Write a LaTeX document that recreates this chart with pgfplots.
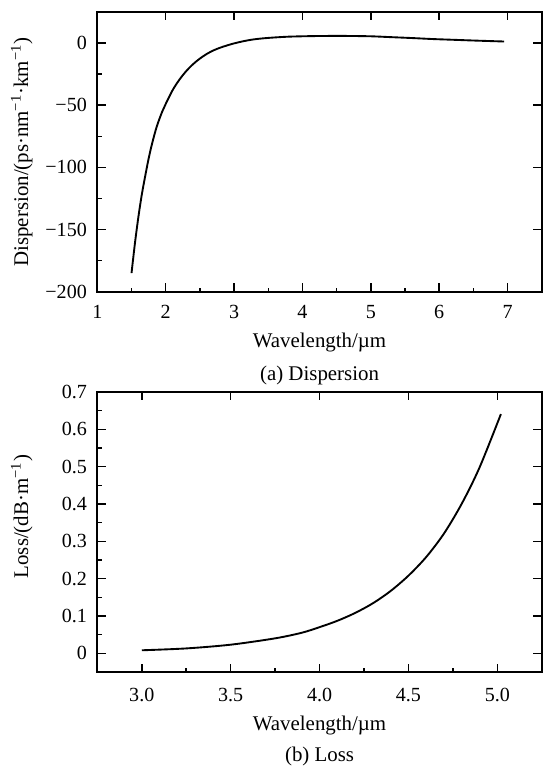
\documentclass[border=0pt]{standalone}
\usepackage{fontspec}
\setmainfont{Liberation Serif}
\usepackage{pgfplots}
\pgfplotsset{compat=1.18}
\begin{document}
\begin{tikzpicture}
\pgfplotsset{
  base/.style={width=212.8pt,height=134pt,scale only axis,
    axis line style={line width=0.9pt},
    tick style={line width=0.7pt,black},
    major tick length=4pt, minor tick length=2pt, tick align=inside,
    /pgf/number format/assume math mode=true,
    tick label style={font=\fontsize{9.6}{11}\selectfont},
    yticklabel style={xshift=-1.5pt},
    label style={font=\fontsize{10}{12}\selectfont},
    xtick pos=left, ytick pos=left},
  mirror/.style={base, xticklabels={}, yticklabels={}, minor xtick={}, minor ytick={},
    xtick pos=right, ytick pos=right, axis line style={draw=none}}
}
% ---------- (a) Dispersion ----------
\begin{axis}[base, name=top,
  xmin=1, xmax=7.5, ymin=-200, ymax=25,
  xtick={1,2,3,4,5,6,7}, minor xtick={1.5,2.5,3.5,4.5,5.5,6.5},
  ytick={-200,-150,-100,-50,0}, minor ytick={-175,-125,-75,-25},
  yticklabels={−200,−150,−100,−50,0},
  xticklabels={1,2,3,4,5,6,7},
  xticklabel style={yshift=-3pt},
  xlabel={Wavelength/µm},
  ylabel={Dispersion/(ps·nm\textsuperscript{−1}·km\textsuperscript{−1})},
  x label style={at={(axis description cs:0.5,-0.181)},anchor=center},
  y label style={at={(axis description cs:-0.170,0.5)},anchor=center},
]
\addplot[black, line width=0.9pt, smooth] coordinates {
(1.50,-185) (1.55,-161) (1.60,-140) (1.65,-122) (1.70,-107) (1.75,-93)
(1.80,-81) (1.87,-67) (1.95,-55) (2.00,-49) (2.10,-38) (2.20,-29.5)
(2.30,-22.6) (2.40,-17) (2.50,-12.5) (2.60,-8.8) (2.70,-5.9) (2.80,-3.7)
(2.90,-1.9) (3.00,-0.3) (3.15,1.6) (3.30,3.0) (3.50,4.1) (3.80,5.1)
(4.20,5.6) (4.60,5.7) (5.00,5.4) (5.30,4.7) (5.60,4.0) (5.90,3.2)
(6.20,2.6) (6.50,2.0) (6.95,1.2)
};
\end{axis}
\begin{axis}[mirror,
  xmin=1, xmax=7.5, ymin=-200, ymax=25,
  xtick={1,2,3,4,5,6,7}, ytick={-200,-150,-100,-50,0}]
\end{axis}
\node[anchor=center, inner sep=0pt, font=\fontsize{10}{12}\selectfont] at ([yshift=-40.2pt]top.south) {(a) Dispersion};
% ---------- (b) Loss ----------
\begin{axis}[base, name=bot, at={(0,-182pt)},
  xmin=2.75, xmax=5.25, ymin=-0.05, ymax=0.7,
  xtick={3,3.5,4,4.5,5}, xticklabels={3.0,3.5,4.0,4.5,5.0},
  minor xtick={3.25,3.75,4.25,4.75},
  xticklabel style={yshift=-4.4pt},
  ytick={0,0.1,0.2,0.3,0.4,0.5,0.6,0.7},
  yticklabels={0,0.1,0.2,0.3,0.4,0.5,0.6,0.7},
  minor ytick={0.05,0.15,0.25,0.35,0.45,0.55,0.65},
  xlabel={Wavelength/µm},
  ylabel={Loss/(dB·m\textsuperscript{−1})},
  x label style={at={(axis description cs:0.5,-0.192)},anchor=center},
  y label style={at={(axis description cs:-0.170,0.555)},anchor=center},
]
\addplot[black, line width=0.9pt, smooth] coordinates {
(3.00,0.008) (3.25,0.013) (3.50,0.023) (3.75,0.040) (3.90,0.055)
(4.00,0.070) (4.10,0.087) (4.20,0.108) (4.30,0.134) (4.40,0.167)
(4.50,0.208) (4.60,0.258) (4.70,0.321) (4.80,0.401) (4.90,0.498)
(5.02,0.641)
};
\end{axis}
\begin{axis}[mirror, at={(0,-182pt)},
  xmin=2.75, xmax=5.25, ymin=-0.05, ymax=0.7,
  xtick={3,3.5,4,4.5,5}, ytick={0,0.1,0.2,0.3,0.4,0.5,0.6,0.7}]
\end{axis}
\node[anchor=center, inner sep=0pt, font=\fontsize{10}{12}\selectfont] at ([yshift=-40.6pt]bot.south) {(b) Loss};
\pgfresetboundingbox
\useasboundingbox (-46.6pt,-228pt) rectangle (213.3pt,139.7pt);
\end{tikzpicture}
\end{document}
